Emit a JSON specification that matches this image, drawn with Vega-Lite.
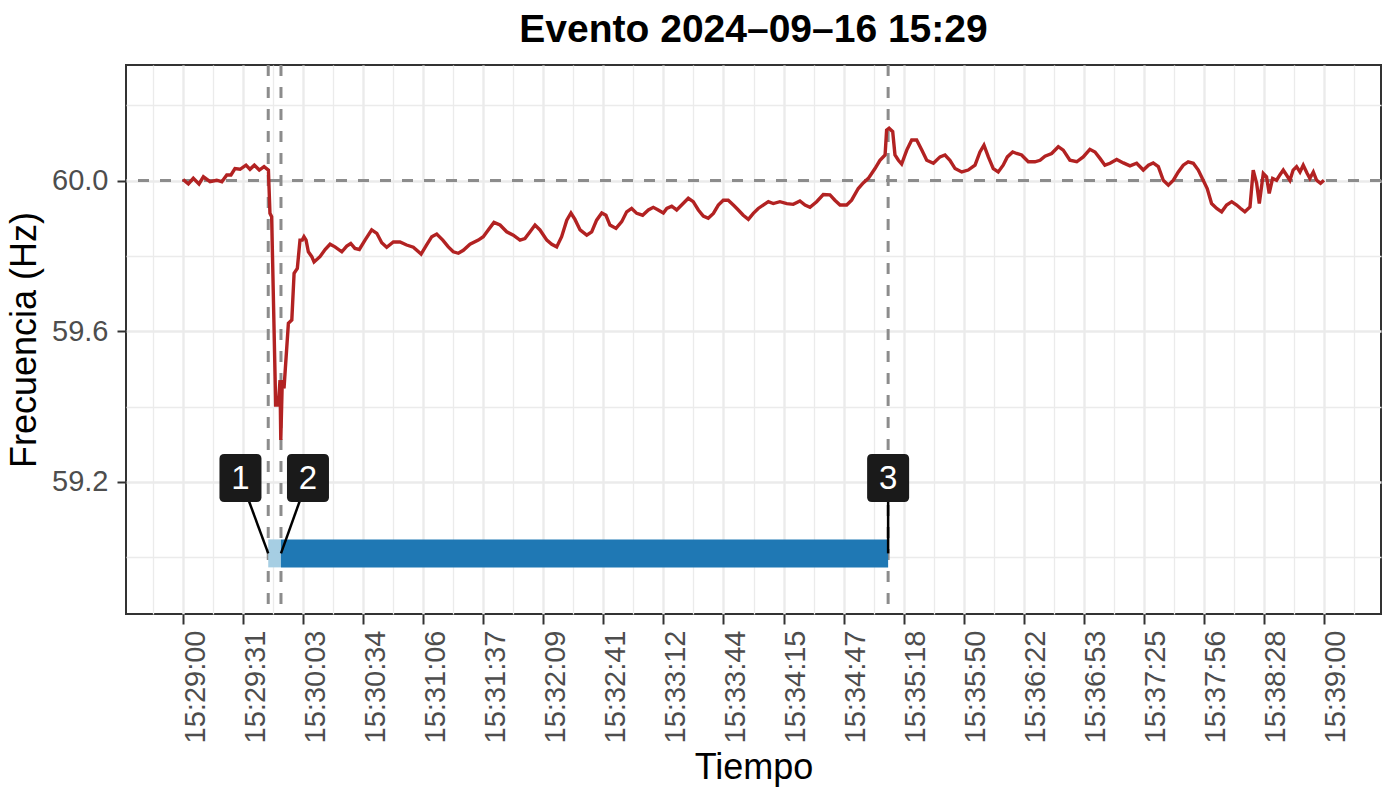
{
  "$schema": "https://vega.github.io/schema/vega-lite/v6.json",
  "width": 1255,
  "height": 549,
  "autosize": {"type": "none"},
  "padding": {"left": 126, "top": 65, "right": 4, "bottom": 175},
  "title": {"text": "Evento 2024–09–16 15:29", "fontSize": 39, "font": "Liberation Sans", "fontWeight": "bold", "color": "#000000", "anchor": "middle", "offset": 14},
  "config": {
    "view": {"stroke": "#333333", "strokeWidth": 2},
    "axis": {"domain": false, "labelFont": "Liberation Sans", "labelFontSize": 29, "labelColor": "#4D4D4D", "titleFont": "Liberation Sans", "titleFontSize": 36, "titleFontWeight": "normal", "titleColor": "#000000", "tickColor": "#333333", "tickWidth": 2, "gridColor": "#EBEBEB"}
  },
  "resolve": {"axis": {"x": "independent", "y": "independent"}},
  "datasets": {
    "eventos": [
      {"ev": "1", "t": 44.8, "lt": 30.2, "lf": 59.21},
      {"ev": "2", "t": 51.5, "lt": 65.7, "lf": 59.21},
      {"ev": "3", "t": 370.8, "lt": 370.8, "lf": 59.21}
    ]
  },
  "layer": [
    {
      "data": {"values": [{"f": 60}]},
      "mark": {"type": "rule", "color": "#8C8C8C", "strokeWidth": 3, "strokeDash": [11, 11]},
      "encoding": {"y": {"field": "f", "type": "quantitative",
        "axis": {"orient": "left", "values": [59.0, 59.4, 59.8, 60.2], "grid": true, "gridWidth": 1.3, "labels": false, "ticks": false, "domain": false, "title": null}}}
    },
    {
      "data": {"name": "eventos"},
      "mark": {"type": "rule", "color": "#8C8C8C", "strokeWidth": 3, "strokeDash": [11, 11]},
      "encoding": {"x": {"field": "t", "type": "quantitative",
        "axis": {"orient": "bottom", "values": [-15.7895, 15.7895, 47.3684, 78.9474, 110.5263, 142.1053, 173.6842, 205.2632, 236.8421, 268.4211, 300, 331.5789, 363.1579, 394.7368, 426.3158, 457.8947, 489.4737, 521.0526, 552.6316, 584.2105, 615.7895], "grid": true, "gridWidth": 1.3, "labels": false, "ticks": false, "domain": false, "title": null}}}
    },
    {
      "data": {"values": [
        {"s":0,"f":60.003},{"s":2.8,"f":59.991},{"s":5.4,"f":60.006},{"s":8.4,"f":59.991},{"s":10.7,"f":60.01},{"s":14.2,"f":59.997},{"s":17.7,"f":60.001},{"s":20.4,"f":59.997},{"s":23.0,"f":60.015},{"s":25.2,"f":60.015},{"s":27.3,"f":60.032},{"s":30.0,"f":60.03},{"s":33.1,"f":60.041},{"s":35.2,"f":60.03},{"s":37.5,"f":60.041},{"s":40.1,"f":60.028},{"s":42.6,"f":60.037},{"s":44.9,"f":60.028},
        {"s":45.7,"f":59.913},{"s":46.6,"f":59.904},{"s":48.4,"f":59.479},{"s":48.7,"f":59.404},{"s":50.1,"f":59.404},{"s":51.0,"f":59.47},{"s":51.4,"f":59.311},{"s":52.2,"f":59.47},{"s":53.1,"f":59.448},{"s":55.4,"f":59.621},{"s":57.2,"f":59.63},{"s":58.4,"f":59.754},{"s":60.1,"f":59.767},{"s":61.5,"f":59.842},{"s":62.7,"f":59.842},{"s":63.6,"f":59.851},{"s":64.7,"f":59.842},{"s":65.9,"f":59.811},{"s":67.7,"f":59.798},{"s":68.9,"f":59.784},
        {"s":72.0,"f":59.798},{"s":74.7,"f":59.817},{"s":77.3,"f":59.831},{"s":79.9,"f":59.824},{"s":83.5,"f":59.811},{"s":86.1,"f":59.826},{"s":88.2,"f":59.833},{"s":90.4,"f":59.82},{"s":92.7,"f":59.817},{"s":95.7,"f":59.842},{"s":99.2,"f":59.869},{"s":101.9,"f":59.86},{"s":104.5,"f":59.835},{"s":107.1,"f":59.823},{"s":110.6,"f":59.837},{"s":114.1,"f":59.837},{"s":117.6,"f":59.829},{"s":121.1,"f":59.823},{"s":125.2,"f":59.805},{"s":128.1,"f":59.829},{"s":130.8,"f":59.851},{"s":133.4,"f":59.858},{"s":136.6,"f":59.842},{"s":139.5,"f":59.824},{"s":142.1,"f":59.811},{"s":144.8,"f":59.807},{"s":147.4,"f":59.815},{"s":150.9,"f":59.831},{"s":155.3,"f":59.842},{"s":157.9,"f":59.851},{"s":160.5,"f":59.869},{"s":163.5,"f":59.889},{"s":166.7,"f":59.882},{"s":170.2,"f":59.864},{"s":173.7,"f":59.855},{"s":177.2,"f":59.842},{"s":179.8,"f":59.846},{"s":182.5,"f":59.864},{"s":185.1,"f":59.882},{"s":187.7,"f":59.869},{"s":191.3,"f":59.842},{"s":193.9,"f":59.831},{"s":196.5,"f":59.824},{"s":199.1,"f":59.851},{"s":201.8,"f":59.895},{"s":204.0,"f":59.914},{"s":206.1,"f":59.897},{"s":208.8,"f":59.869},{"s":212.3,"f":59.855},{"s":214.9,"f":59.864},{"s":217.5,"f":59.895},{"s":220.2,"f":59.914},{"s":222.4,"f":59.908},{"s":224.5,"f":59.882},{"s":227.7,"f":59.873},{"s":230.7,"f":59.891},{"s":233.3,"f":59.917},{"s":235.9,"f":59.926},{"s":238.6,"f":59.913},{"s":241.7,"f":59.908},{"s":244.7,"f":59.922},{"s":247.3,"f":59.929},{"s":249.9,"f":59.922},{"s":252.6,"f":59.914},{"s":254.4,"f":59.926},{"s":257.0,"f":59.932},{"s":259.6,"f":59.922},{"s":262.2,"f":59.935},{"s":265.7,"f":59.953},{"s":268.3,"f":59.944},{"s":271.0,"f":59.922},{"s":273.6,"f":59.906},{"s":276.2,"f":59.9},{"s":278.9,"f":59.913},{"s":281.5,"f":59.935},{"s":284.1,"f":59.948},{"s":286.7,"f":59.948},{"s":289.4,"f":59.935},{"s":292.0,"f":59.922},{"s":294.6,"f":59.908},{"s":297.3,"f":59.897},{"s":299.9,"f":59.913},{"s":302.5,"f":59.926},{"s":305.1,"f":59.935},{"s":307.8,"f":59.944},{"s":310.4,"f":59.939},{"s":313.9,"f":59.944},{"s":317.5,"f":59.939},{"s":320.9,"f":59.937},{"s":324.4,"f":59.946},{"s":327.1,"f":59.935},{"s":329.7,"f":59.929},{"s":333.2,"f":59.944},{"s":336.7,"f":59.963},{"s":340.2,"f":59.962},{"s":342.8,"f":59.948},{"s":345.5,"f":59.935},{"s":349.0,"f":59.935},{"s":351.6,"f":59.948},{"s":355.1,"f":59.979},{"s":357.7,"f":59.994},{"s":360.4,"f":60.006},{"s":363.9,"f":60.032},{"s":366.5,"f":60.054},{"s":369.2,"f":60.068},{"s":370.0,"f":60.134},{"s":371.3,"f":60.139},{"s":373.2,"f":60.13},{"s":374.4,"f":60.068},{"s":376.2,"f":60.054},{"s":377.9,"f":60.044},{"s":380.6,"f":60.081},{"s":383.2,"f":60.108},{"s":385.8,"f":60.108},{"s":388.5,"f":60.081},{"s":391.1,"f":60.054},{"s":394.6,"f":60.046},{"s":398.1,"f":60.063},{"s":400.7,"f":60.068},{"s":403.3,"f":60.054},{"s":406.0,"f":60.032},{"s":409.5,"f":60.023},{"s":412.9,"f":60.028},{"s":416.5,"f":60.041},{"s":419.1,"f":60.076},{"s":421.2,"f":60.094},{"s":423.5,"f":60.063},{"s":426.1,"f":60.032},{"s":428.7,"f":60.023},{"s":431.3,"f":60.041},{"s":433.5,"f":60.063},{"s":436.3,"f":60.076},{"s":438.4,"f":60.072},{"s":441.0,"f":60.068},{"s":444.5,"f":60.05},{"s":448.0,"f":60.05},{"s":450.7,"f":60.054},{"s":453.3,"f":60.065},{"s":456.8,"f":60.072},{"s":460.3,"f":60.09},{"s":462.9,"f":60.081},{"s":466.4,"f":60.054},{"s":470.0,"f":60.05},{"s":473.4,"f":60.063},{"s":476.9,"f":60.083},{"s":479.6,"f":60.076},{"s":482.2,"f":60.059},{"s":484.8,"f":60.041},{"s":487.5,"f":60.046},{"s":491.0,"f":60.056},{"s":494.5,"f":60.047},{"s":498.0,"f":60.039},{"s":501.5,"f":60.046},{"s":505.0,"f":60.028},{"s":507.7,"f":60.041},{"s":510.2,"f":60.047},{"s":512.9,"f":60.037},{"s":515.5,"f":60.001},{"s":518.2,"f":59.988},{"s":520.8,"f":60.001},{"s":523.4,"f":60.023},{"s":526.0,"f":60.041},{"s":528.6,"f":60.05},{"s":531.3,"f":60.046},{"s":533.9,"f":60.028},{"s":536.5,"f":60.001},{"s":538.6,"f":59.979},{"s":540.9,"f":59.939},{"s":543.6,"f":59.926},{"s":546.2,"f":59.917},{"s":548.8,"f":59.935},{"s":551.5,"f":59.944},{"s":554.1,"f":59.935},{"s":556.2,"f":59.926},{"s":558.4,"f":59.917},{"s":561.1,"f":59.93},{"s":562.8,"f":60.028},{"s":564.6,"f":59.993},{"s":566.0,"f":59.939},{"s":568.1,"f":60.019},{"s":569.8,"f":60.01},{"s":571.2,"f":59.966},{"s":573.0,"f":60.006},{"s":575.1,"f":60.001},{"s":576.8,"f":60.015},{"s":578.6,"f":60.028},{"s":580.3,"f":60.015},{"s":582.1,"f":60.001},{"s":583.8,"f":60.028},{"s":585.6,"f":60.037},{"s":587.4,"f":60.023},{"s":589.1,"f":60.041},{"s":591.2,"f":60.019},{"s":592.6,"f":60.006},{"s":594.4,"f":60.023},{"s":596.1,"f":60.001},{"s":598.2,"f":59.993},{"s":600,"f":60.001}
      ]},
      "mark": {"type": "line", "color": "#B22222", "strokeWidth": 3.4},
      "encoding": {
        "x": {
          "field": "s", "type": "quantitative",
          "scale": {"domain": [-30, 630], "nice": false, "zero": false},
          "axis": {
            "title": "Tiempo", "orient": "bottom",
            "values": [0, 31.5789, 63.1579, 94.7368, 126.3158, 157.8947, 189.4737, 221.0526, 252.6316, 284.2105, 315.7895, 347.3684, 378.9474, 410.5263, 442.1053, 473.6842, 505.2632, 536.8421, 568.4211, 600],
            "labelExpr": "'15:' + (floor((1740 + floor(datum.value + 0.001)) / 60) % 60 < 10 ? '0' : '') + (floor((1740 + floor(datum.value + 0.001)) / 60) % 60) + ':' + ((1740 + floor(datum.value + 0.001)) % 60 < 10 ? '0' : '') + ((1740 + floor(datum.value + 0.001)) % 60)",
            "labelAngle": 270, "labelAlign": "right", "labelBaseline": "middle",
            "labelOverlap": false, "labelFlush": false, "labelPadding": 6, "labelOffset": 12,
            "ticks": true, "tickSize": 10,
            "grid": true, "gridWidth": 2.4,
            "titlePadding": 8
          }
        },
        "y": {
          "field": "f", "type": "quantitative",
          "scale": {"domain": [58.849, 60.307], "nice": false, "zero": false},
          "axis": {
            "title": "Frecuencia (Hz)", "orient": "left",
            "values": [59.2, 59.6, 60.0],
            "format": ".1f",
            "labelOverlap": false, "labelFlush": false, "labelPadding": 9,
            "ticks": true, "tickSize": 9,
            "grid": true, "gridWidth": 2.4,
            "titlePadding": 8
          }
        }
      }
    },
    {
      "data": {"values": [{"fase": "1", "inicio": 44.8, "fin": 51.5}, {"fase": "2", "inicio": 51.5, "fin": 370.8}]},
      "mark": {"type": "rule", "strokeWidth": 28, "strokeCap": "butt"},
      "encoding": {
        "x": {"field": "inicio", "type": "quantitative", "axis": null},
        "x2": {"field": "fin"},
        "y": {"datum": 59.01, "type": "quantitative", "axis": null},
        "color": {"field": "fase", "type": "nominal", "scale": {"domain": ["1", "2"], "range": ["#A6CEE3", "#1F78B4"]}, "legend": null}
      }
    },
    {
      "data": {"name": "eventos"},
      "mark": {"type": "rule", "color": "#000000", "strokeWidth": 2.5},
      "encoding": {
        "x": {"field": "lt", "type": "quantitative", "axis": null},
        "y": {"field": "lf", "type": "quantitative", "axis": null},
        "x2": {"field": "t"},
        "y2": {"datum": 59.01}
      }
    },
    {
      "data": {"name": "eventos"},
      "mark": {"type": "point", "filled": true, "opacity": 1, "fill": "#1A1A1A", "strokeWidth": 0, "size": 2304, "shape": "M-0.675,-1 L0.675,-1 Q0.875,-1 0.875,-0.8 L0.875,0.8 Q0.875,1 0.675,1 L-0.675,1 Q-0.875,1 -0.875,0.8 L-0.875,-0.8 Q-0.875,-1 -0.675,-1 Z"},
      "encoding": {
        "x": {"field": "lt", "type": "quantitative", "axis": null},
        "y": {"field": "lf", "type": "quantitative", "axis": null}
      }
    },
    {
      "data": {"name": "eventos"},
      "mark": {"type": "text", "font": "Liberation Sans", "fontSize": 33, "color": "#FFFFFF", "align": "center", "baseline": "middle", "dy": 1},
      "encoding": {
        "x": {"field": "lt", "type": "quantitative", "axis": null},
        "y": {"field": "lf", "type": "quantitative", "axis": null},
        "text": {"field": "ev"}
      }
    }
  ]
}
